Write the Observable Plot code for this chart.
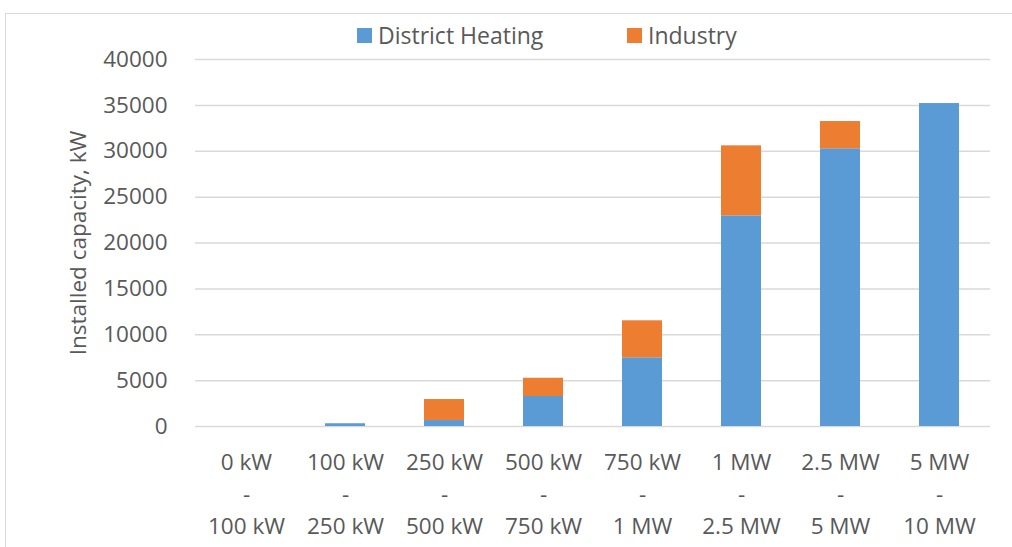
<!DOCTYPE html>
<html>
<head>
<meta charset="utf-8">
<script src="https://cdn.jsdelivr.net/npm/d3@7"></script>
<script src="https://cdn.jsdelivr.net/npm/@observablehq/plot@0.6"></script>
<style>
  html, body { margin: 0; padding: 0; background: #fff; }
  #wrap { position: relative; width: 1012px; height: 547px; overflow: hidden; font-family: "Open Sans", sans-serif; }
  #frame { position: absolute; left: 5px; top: 13px; width: 1100px; height: 600px; border-left: 1px solid #d9d9d9; border-top: 1px solid #d9d9d9; }
  #legend { position: absolute; top: 20px; left: 0; width: 1012px; height: 30px; }
  .item { position: absolute; top: 0; display: flex; align-items: center; font-size: 23px; color: #595959; line-height: 30px; }
  .sw { width: 15px; height: 15px; margin-right: 6px; }
  #chart { position: absolute; left: 0; top: 0; }
</style>
</head>
<body>
<div id="wrap">
  <div id="frame"></div>
  <div id="chart"></div>
  <div id="legend"></div>
</div>
<script>
const categories = ["0-100kW", "100-250kW", "250-500kW", "500-750kW", "750kW-1MW", "1-2.5MW", "2.5-5MW", "5-10MW"];
const tickLabels = ["0 kW\n-\n100 kW", "100 kW\n-\n250 kW", "250 kW\n-\n500 kW", "500 kW\n-\n750 kW", "750 kW\n-\n1 MW", "1 MW\n-\n2.5 MW", "2.5 MW\n-\n5 MW", "5 MW\n-\n10 MW"];
const districtHeating = [0, 300, 650, 3270, 7490, 22960, 30270, 35200];
const industry = [0, 0, 2290, 1990, 4030, 7630, 2970, 0];
const seriesNames = ["District Heating", "Industry"];
const seriesColors = ["#5b9bd5", "#ed7d31"];
const yTicks = [0, 5000, 10000, 15000, 20000, 25000, 30000, 35000, 40000];

const rows = [];
categories.forEach((c, i) => {
  rows.push({cat: c, series: seriesNames[0], value: districtHeating[i]});
  rows.push({cat: c, series: seriesNames[1], value: industry[i]});
});
const labelOf = new Map(categories.map((c, i) => [c, tickLabels[i]]));

const chart = Plot.plot({
  width: 1012,
  height: 547,
  marginLeft: 195,
  marginRight: 22,
  marginTop: 59,
  marginBottom: 121,
  style: {fontFamily: "'Open Sans', sans-serif", color: "#595959", background: "transparent"},
  x: {domain: categories, paddingInner: 0.6, paddingOuter: 0.3},
  y: {domain: [0, 40000]},
  color: {domain: seriesNames, range: seriesColors},
  marks: [
    Plot.gridY(yTicks, {stroke: "#d9d9d9", strokeOpacity: 1, strokeWidth: 1.5}),
    Plot.barY(rows, Plot.stackY({x: "cat", y: "value", fill: "series", order: seriesNames})),
    Plot.axisY({ticks: yTicks, tickSize: 0, tickPadding: 28, fontSize: 22.5, tickFormat: d => String(d),
      label: "Installed capacity, kW", labelAnchor: "center", labelArrow: "none", labelOffset: 125}),
    Plot.axisX({tickSize: 0, tickPadding: 21, fontSize: 22.5, lineHeight: 1.42, tickFormat: d => labelOf.get(d), label: null})
  ]
});
document.getElementById("chart").appendChild(chart);

const legend = document.getElementById("legend");
const positions = [357, 627];
seriesNames.forEach((name, i) => {
  const el = document.createElement("div");
  el.className = "item";
  el.style.left = positions[i] + "px";
  const sw = document.createElement("div");
  sw.className = "sw";
  sw.style.background = seriesColors[i];
  el.appendChild(sw);
  el.appendChild(document.createTextNode(name));
  legend.appendChild(el);
});
</script>
</body>
</html>
